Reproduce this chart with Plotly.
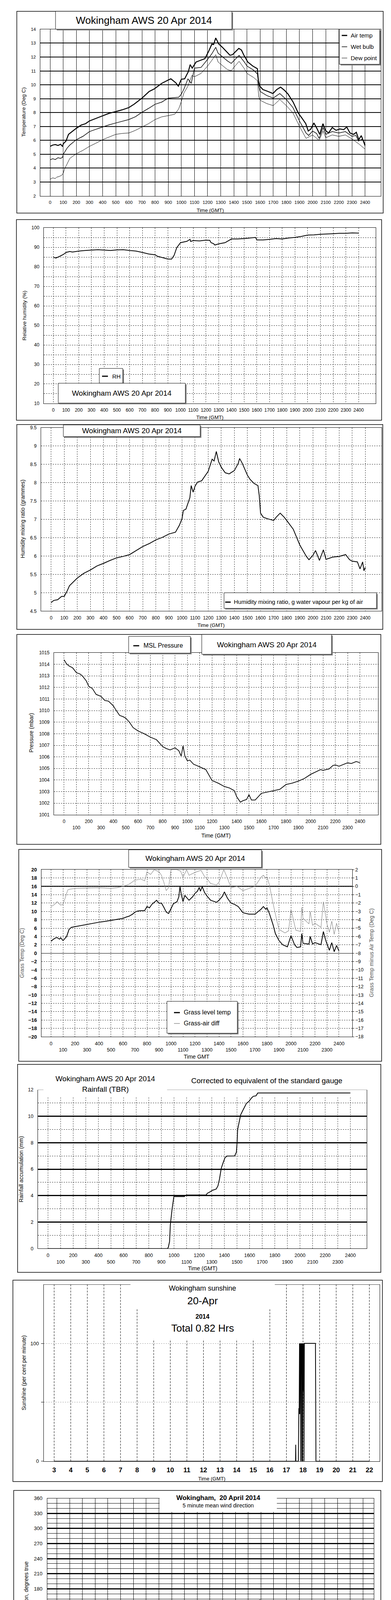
import plotly.graph_objects as go

W, H = 1000, 5000
FONT = "Liberation Sans, Arial, sans-serif"

# ======================= DATA =======================
hhmm_ticks = [0, 100, 200, 300, 400, 500, 600, 700, 800, 900, 1000, 1100, 1200,
              1300, 1400, 1500, 1600, 1700, 1800, 1900, 2000, 2100, 2200, 2300, 2400]
hhmm_labels = ["0", "100", "200", "300", "400", "500", "600", "700", "800", "900", "1000",
               "1100", "1200", "1300", "1400", "1500", "1600", "1700", "1800", "1900",
               "2000", "2100", "2200", "2300", "2400"]
hhmm_labels_2row = ["0", "<br>100", "200", "<br>300", "400", "<br>500", "600", "<br>700",
                    "800", "<br>900", "1000", "<br>1100", "1200", "<br>1300", "1400",
                    "<br>1500", "1600", "<br>1700", "1800", "<br>1900", "2000", "<br>2100",
                    "2200", "<br>2300", "2400"]
sun_hour_ticks = [3, 4, 5, 6, 7, 8, 9, 10, 11, 12, 13, 14, 15, 16, 17, 18, 19, 20, 21, 22]
dir_hour_ticks = [0, 1, 2, 3, 4, 5, 6, 7, 8, 9, 10, 11, 12, 13, 14, 15, 16, 17, 18, 19,
                  20, 21, 22, 23, 24]
clock_ticks = [0, 1, 2, 3, 4, 5, 6, 7, 8, 9, 10, 11, 12, 13, 14, 15, 16, 17, 18, 19, 20,
               21, 22, 23, 24, 25]
clock_labels = ["00:00", "<br>01:00", "02:00", "<br>03:00", "04:00", "<br>05:00", "06:00",
                "<br>07:00", "08:00", "<br>09:00", "10:00", "<br>11:00", "12:00",
                "<br>13:00", "14:00", "<br>15:00", "16:00", "<br>17:00", "18:00",
                "<br>19:00", "20:00", "<br>21:00", "22:00", "<br>23:00", "", ""]

temp_ticks = [2, 3, 4, 5, 6, 7, 8, 9, 10, 11, 12, 13, 14]
rh_ticks = [10, 15, 20, 25, 30, 35, 40, 45, 50, 55, 60, 65, 70, 75, 80, 85, 90, 95, 100]
rh_labels = ["10", "", "20", "", "30", "", "40", "", "50", "", "60", "", "70", "", "80", "",
             "90", "", "100"]
mix_ticks = [4.5, 5, 5.5, 6, 6.5, 7, 7.5, 8, 8.5, 9, 9.5]
mix_labels = ["4.5", "5", "5.5", "6", "6.5", "7", "7.5", "8", "8.5", "9", "9.5"]
pres_ticks = [1001, 1002, 1003, 1004, 1005, 1006, 1007, 1008, 1009, 1010, 1011, 1012, 1013, 1014, 1015]
grass_ticks = [-20, -18, -16, -14, -12, -10, -8, -6, -4, -2, 0, 2, 4, 6, 8, 10, 12, 14, 16, 18, 20]
diff_ticks = [-18, -17, -16, -15, -14, -13, -12, -11, -10, -9, -8, -7, -6, -5, -4, -3, -2, -1, 0, 1, 2]
rain_ticks = [0, 2, 4, 6, 8, 10, 12]
rain_minor = [1, 3, 5, 7, 9, 11]
sun_ticks = [0, 50, 100]
sun_labels = ["0", "", "100"]
dir_ticks = [0, 30, 60, 90, 120, 150, 180, 210, 240, 270, 300, 330, 360]
dir_minor = [10, 20, 40, 50, 70, 80, 100, 110, 130, 140, 160, 170, 190, 200, 220, 230,
             250, 260, 280, 290, 310, 320, 340, 350]
speed_ticks = [0, 5, 10, 15, 20, 25, 30, 35, 40, 45, 50]
speed_labels = ["0", "", "10", "", "20", "", "30", "", "40", "", "50"]

# (time HHMM, deg C)
air_temp = [(0, 5.57), (20, 5.66), (40, 5.70), (60, 5.63), (80, 5.72), (95, 5.55), (100, 5.75),
            (121, 5.95), (140, 6.43), (170, 6.65), (200, 6.87), (237, 7.1), (270, 7.2), (300, 7.4),
            (350, 7.58), (400, 7.78), (450, 7.95), (500, 8.07), (550, 8.2), (600, 8.36), (640, 8.6),
            (700, 9.04), (755, 9.52), (795, 9.71), (850, 10.1), (900, 10.34), (920, 10.43),
            (958, 10.14), (977, 9.9), (1000, 10.4), (1025, 10.43), (1054, 10.96), (1067, 11.45),
            (1083, 11.2), (1112, 11.64), (1140, 11.74), (1179, 11.88), (1208, 12.41), (1233, 12.94),
            (1246, 12.9), (1262, 13.37), (1285, 12.94), (1313, 12.7), (1342, 12.41), (1371, 12.12),
            (1390, 12.17), (1410, 12.36), (1438, 12.62), (1458, 12.5), (1477, 12.12), (1506, 11.64),
            (1544, 11.35), (1579, 11.16), (1587, 10.29), (1598, 9.9), (1621, 9.66), (1660, 9.52),
            (1698, 9.37), (1727, 9.66), (1756, 9.83), (1785, 9.61), (1813, 9.33), (1852, 8.75),
            (1890, 7.98), (1919, 7.6), (1948, 7.2), (1967, 6.67), (1987, 6.82), (2010, 7.25),
            (2035, 6.82), (2054, 6.43), (2079, 7.2), (2098, 6.72), (2121, 6.53), (2150, 6.92),
            (2179, 6.72), (2208, 6.82), (2237, 6.77), (2260, 6.96), (2285, 6.53), (2313, 6.43),
            (2333, 6.58), (2352, 6.05), (2371, 6.34), (2387, 5.95), (2400, 5.66)]
wet_bulb = [(0, 4.6), (20, 4.68), (40, 4.62), (60, 4.75), (80, 4.7), (95, 4.78), (100, 4.99),
            (130, 5.45), (150, 5.66), (200, 6.05), (250, 6.29), (300, 6.63), (350, 6.8), (400, 6.96),
            (450, 7.12), (500, 7.25), (550, 7.38), (600, 7.5), (650, 7.7), (700, 8.02), (750, 8.3),
            (800, 8.6), (850, 8.75), (900, 9.04), (950, 9.08), (980, 9.1), (1000, 9.33), (1020, 9.7),
            (1050, 10.43), (1075, 10.1), (1100, 11.2), (1150, 11.25), (1200, 11.83), (1230, 12.2),
            (1262, 12.7), (1280, 12.27), (1300, 12.12), (1350, 11.73), (1380, 11.54), (1400, 11.73),
            (1440, 12.12), (1480, 11.64), (1500, 11.35), (1550, 11.06), (1580, 10.77), (1590, 9.9),
            (1600, 9.52), (1650, 9.23), (1700, 9.04), (1750, 9.37), (1800, 8.94), (1850, 8.36),
            (1900, 7.4), (1950, 6.53), (1970, 6.35), (2000, 6.67), (2030, 6.5), (2050, 6.14),
            (2080, 6.92), (2100, 6.43), (2150, 6.63), (2200, 6.53), (2250, 6.63), (2300, 6.29),
            (2330, 6.35), (2350, 5.95), (2380, 6.1), (2400, 5.57)]
dew_point = [(0, 3.2), (20, 3.3), (40, 3.25), (50, 3.35), (70, 3.4), (90, 3.5), (100, 3.64),
             (110, 3.93), (150, 4.7), (200, 5.04), (250, 5.28), (300, 5.57), (350, 5.8), (400, 6.05),
             (450, 6.24), (500, 6.43), (550, 6.5), (600, 6.53), (650, 6.72), (700, 6.96), (750, 7.2),
             (800, 7.5), (850, 7.69), (900, 7.78), (950, 7.88), (980, 8.27), (1000, 8.8), (1020, 9.42),
             (1050, 9.9), (1080, 10.67), (1100, 10.58), (1150, 10.82), (1200, 11.35), (1230, 11.73),
             (1262, 12.17), (1280, 11.64), (1300, 11.49), (1350, 11.1), (1380, 11.01), (1400, 11.25),
             (1440, 11.69), (1480, 11.16), (1500, 10.82), (1550, 10.53), (1580, 10.29), (1590, 9.13),
             (1600, 8.89), (1650, 8.65), (1700, 8.5), (1750, 8.94), (1800, 8.5), (1850, 7.98),
             (1900, 7.01), (1950, 6.14), (2000, 6.39), (2050, 6.0), (2080, 6.67), (2100, 6.19),
             (2150, 6.39), (2200, 6.29), (2250, 6.39), (2300, 6.1), (2350, 5.76), (2400, 5.37)]

rel_humidity = [(0, 85.0), (20, 84.5), (50, 85.4), (80, 86.4), (100, 87.4), (130, 87.9), (150, 87.6),
                (200, 88.1), (250, 88.4), (300, 88.6), (350, 88.8), (400, 88.6), (450, 88.4),
                (500, 88.7), (550, 88.8), (600, 88.4), (650, 88.1), (700, 87.4), (750, 86.6),
                (800, 86.2), (820, 85.4), (850, 84.9), (880, 84.4), (900, 84.0), (930, 84.0),
                (950, 86.0), (970, 89.8), (1000, 92.4), (1050, 93.1), (1075, 94.1), (1080, 93.0),
                (1100, 93.5), (1150, 93.3), (1200, 93.7), (1230, 93.6), (1240, 92.4), (1260, 91.9),
                (1270, 91.2), (1300, 91.8), (1350, 92.4), (1400, 94.3), (1450, 94.3), (1500, 94.5),
                (1550, 94.8), (1590, 95.1), (1600, 93.8), (1650, 93.8), (1700, 94.1), (1750, 94.5),
                (1800, 94.3), (1850, 94.8), (1900, 95.1), (1950, 95.6), (2000, 96.3), (2050, 96.4),
                (2100, 96.7), (2150, 96.8), (2200, 97.0), (2250, 97.2), (2300, 97.2), (2350, 97.4),
                (2400, 97.3)]

mixing_ratio = [(0, 4.73), (20, 4.79), (50, 4.81), (80, 4.9), (100, 4.9), (120, 5.03), (140, 5.19),
                (170, 5.3), (200, 5.4), (250, 5.53), (300, 5.62), (350, 5.73), (400, 5.8), (450, 5.88),
                (500, 5.95), (550, 5.99), (600, 6.04), (650, 6.15), (700, 6.26), (750, 6.34),
                (800, 6.44), (850, 6.51), (900, 6.6), (950, 6.65), (980, 6.84), (1000, 7.02),
                (1010, 7.24), (1030, 7.28), (1050, 7.5), (1060, 7.59), (1070, 7.92), (1085, 7.74),
                (1100, 7.91), (1120, 8.02), (1150, 8.05), (1200, 8.31), (1230, 8.64), (1245, 8.59),
                (1262, 8.85), (1280, 8.57), (1300, 8.42), (1330, 8.27), (1360, 8.24), (1400, 8.33),
                (1430, 8.53), (1440, 8.66), (1460, 8.53), (1500, 8.2), (1520, 8.09), (1550, 7.98),
                (1580, 7.92), (1590, 7.65), (1600, 7.17), (1620, 7.06), (1650, 7.02), (1700, 6.97),
                (1720, 7.06), (1750, 7.17), (1780, 7.06), (1800, 6.97), (1850, 6.73), (1900, 6.3),
                (1950, 5.99), (1970, 5.9), (2000, 6.02), (2020, 6.15), (2050, 5.88), (2080, 6.17),
                (2100, 5.91), (2150, 5.97), (2200, 5.99), (2250, 6.04), (2280, 5.9), (2300, 5.86),
                (2340, 5.84), (2360, 5.65), (2380, 5.84), (2390, 5.6), (2400, 5.69)]

msl_pressure = [(0, 1014.39), (20, 1014.04), (40, 1013.86), (70, 1013.69), (100, 1013.28),
                (130, 1013.16), (150, 1012.98), (180, 1012.57), (200, 1012.1), (230, 1011.9),
                (260, 1011.4), (300, 1011.23), (330, 1010.88), (360, 1010.82), (400, 1010.41),
                (420, 1010.06), (450, 1009.59), (480, 1009.47), (500, 1009.35), (530, 1009.0),
                (560, 1008.53), (600, 1008.24), (650, 1008.0), (700, 1007.71), (750, 1007.48),
                (800, 1006.89), (830, 1006.72), (860, 1006.6), (900, 1006.78), (930, 1006.54),
                (950, 1006.07), (965, 1006.95), (980, 1006.07), (1000, 1005.66), (1020, 1005.72),
                (1050, 1005.37), (1100, 1005.14), (1150, 1004.9), (1200, 1003.96), (1250, 1003.73),
                (1300, 1003.44), (1340, 1003.32), (1380, 1003.09), (1400, 1002.56), (1430, 1002.09),
                (1450, 1002.21), (1480, 1002.32), (1500, 1002.73), (1520, 1002.27), (1550, 1002.27),
                (1600, 1002.85), (1650, 1002.97), (1700, 1003.09), (1750, 1003.2), (1800, 1003.61),
                (1850, 1003.73), (1900, 1003.91), (1950, 1004.14), (2000, 1004.49), (2050, 1004.73),
                (2080, 1004.9), (2100, 1004.84), (2150, 1004.96), (2180, 1005.25), (2200, 1005.31),
                (2230, 1005.19), (2270, 1005.37), (2300, 1005.49), (2330, 1005.43), (2370, 1005.6),
                (2400, 1005.49)]

grass_temp = [(0, 2.86), (20, 3.36), (40, 3.69), (50, 3.76), (70, 3.36), (80, 3.7), (100, 3.03),
              (110, 3.36), (130, 4.0), (150, 5.69), (170, 6.19), (200, 6.36), (250, 6.62), (300, 6.95),
              (350, 7.19), (400, 7.42), (450, 7.62), (500, 7.85), (550, 8.09), (600, 8.35), (630, 8.69),
              (650, 8.85), (680, 9.35), (700, 9.85), (720, 10.08), (750, 10.18), (780, 10.18),
              (800, 11.18), (820, 10.85), (840, 11.68), (860, 12.18), (880, 12.68), (900, 11.95),
              (920, 12.01), (940, 11.0), (960, 9.85), (980, 9.51), (1000, 10.68), (1020, 11.85),
              (1050, 12.34), (1065, 13.51), (1075, 15.94), (1085, 14.18), (1100, 12.34), (1115, 13.84),
              (1130, 13.34), (1150, 12.68), (1180, 13.51), (1200, 14.34), (1220, 14.84), (1235, 15.74),
              (1245, 14.84), (1260, 15.94), (1280, 14.51), (1300, 13.68), (1330, 12.68), (1380, 12.18),
              (1400, 12.68), (1430, 13.68), (1445, 14.68), (1470, 13.18), (1500, 12.01), (1530, 11.68),
              (1560, 11.18), (1600, 9.68), (1650, 9.35), (1700, 9.35), (1750, 10.52), (1770, 11.18),
              (1790, 10.52), (1800, 10.85), (1820, 9.51), (1850, 6.86), (1870, 4.69), (1900, 3.03),
              (1930, 2.03), (1970, 1.53), (2000, 4.19), (2030, 2.03), (2050, 1.36), (2080, 1.53),
              (2090, 4.69), (2100, 2.36), (2150, 2.19), (2160, 4.03), (2180, 2.19), (2200, 2.53),
              (2250, 2.03), (2270, 5.19), (2290, 3.03), (2300, 2.19), (2320, 0.69), (2340, 2.53),
              (2360, 0.36), (2380, 1.86), (2400, 0.53)]
grass_air_diff = [(0, -2.41), (30, -2.16), (50, -1.83), (80, -2.24), (100, -2.16), (120, -1.33),
                  (140, -0.41), (160, -0.33), (200, -0.25), (300, -0.2), (400, -0.16), (500, -0.25),
                  (550, -0.16), (600, 0.0), (650, 0.25), (700, 0.75), (750, 0.87), (780, 0.67),
                  (800, 1.75), (830, 1.42), (860, 2.0), (900, 1.75), (920, 1.33), (940, 0.5),
                  (960, -0.5), (980, -0.16), (1000, 2.0), (1050, 2.0), (1080, 1.83), (1100, 1.08),
                  (1130, 2.0), (1150, 1.33), (1200, 1.67), (1250, 1.92), (1280, 1.17), (1300, 0.92),
                  (1330, 0.34), (1380, 0.17), (1400, 0.5), (1440, 2.0), (1470, 1.0), (1500, -0.16),
                  (1550, 0.0), (1600, -0.5), (1650, -0.25), (1700, 0.0), (1750, 1.08), (1770, 1.33),
                  (1790, 1.0), (1800, 1.17), (1820, 0.17), (1850, -2.0), (1880, -3.99), (1900, -5.15),
                  (1950, -5.57), (1980, -5.32), (2000, -2.74), (2040, -5.24), (2080, -5.4),
                  (2090, -2.49), (2100, -3.82), (2150, -4.49), (2160, -2.99), (2180, -4.66),
                  (2200, -4.41), (2250, -4.91), (2270, -1.83), (2290, -3.66), (2300, -4.49),
                  (2320, -5.49), (2340, -4.16), (2360, -5.74), (2380, -4.41), (2400, -5.49)]

rain_accum = [(0, 0), (949, 0), (955, 0.1), (965, 0.54), (971, 1.8), (985, 3.0), (999, 3.93),
              (1083, 3.93), (1085, 4.0), (1100, 4.05), (1255, 4.05), (1265, 4.18), (1285, 4.28),
              (1305, 4.4), (1335, 4.5), (1349, 4.74), (1361, 5.25), (1375, 6.06), (1389, 6.46),
              (1405, 6.87), (1421, 6.99), (1481, 7.0), (1495, 7.27), (1501, 8.03), (1505, 8.99),
              (1519, 9.6), (1529, 10.1), (1545, 10.41), (1561, 10.71), (1575, 10.97), (1595, 11.12),
              (1615, 11.37), (1629, 11.5), (1651, 11.54), (1665, 11.75), (2400, 11.75)]

# (hour, per cent per minute)
sunshine = [(3, 0), (17.55, 0), (17.56, 14), (17.57, 0), (17.72, 0), (17.74, 30), (17.75, 45),
            (17.77, 40), (17.79, 100), (17.80, 40), (17.82, 100), (17.83, 70), (17.85, 100),
            (17.86, 0), (17.88, 100), (17.90, 80), (17.92, 100), (17.93, 0), (17.95, 100),
            (17.97, 0), (17.99, 100), (18.02, 60), (18.04, 100), (18.06, 0), (18.08, 100),
            (18.75, 100), (18.77, 50), (18.78, 0), (22, 0)]

# (hour, degrees true)
wind_dir = [(0.00, 21.4), (0.10, 20), (0.23, 25.3), (0.38, 30.5), (0.49, 28.6), (0.64, 27.9),
            (0.80, 30.5), (0.90, 27.9), (1.03, 26.6), (1.16, 29.7), (1.31, 29.7), (1.42, 27.9),
            (1.50, 20.1), (1.62, 27.1), (1.78, 25.3), (1.90, 27.1), (2.04, 25.3), (2.19, 26.6),
            (2.35, 27.1), (2.50, 25.3), (2.65, 22.7), (2.76, 20.1), (2.83, 16.3), (2.91, 24),
            (3.04, 26.6), (3.17, 28.6), (3.33, 27.1), (3.48, 28.6), (3.58, 24), (3.69, 21.9),
            (3.79, 26.6), (3.92, 16.8), (4.00, 25.3), (4.13, 21.9), (4.26, 17.5), (4.33, 14.2),
            (4.41, 20.1), (4.57, 24), (4.67, 22.7), (4.75, 31.7), (4.88, 25.3), (5.03, 25.3),
            (5.17, 29.2), (5.29, 27.9), (5.44, 22.7), (5.58, 20.1), (5.70, 17.5), (5.81, 16.3),
            (5.91, 15.7), (6.01, 20.1), (6.14, 21.4), (6.24, 26.6), (6.37, 24), (6.53, 26.6),
            (6.68, 27.9), (6.84, 29.2), (6.99, 29.2), (7.15, 33), (7.30, 29.7), (7.46, 31.7),
            (7.58, 28.6), (7.67, 36.9), (7.77, 27.9), (7.92, 33), (8.06, 33), (8.18, 29.2),
            (8.34, 27.9), (8.47, 29.7), (8.62, 33), (8.75, 35.6), (8.88, 40.3), (9.01, 34.3),
            (9.16, 33), (9.27, 34.3), (9.37, 29.2), (9.52, 27.9), (9.61, 51.6), (9.68, 25.3),
            (9.83, 22.7), (9.99, 25.3), (10.14, 27.9), (10.25, 24), (10.35, 33), (10.51, 27.9),
            (10.61, 33), (10.76, 33), (10.92, 34.3), (11.07, 35.6), (11.23, 39.5), (11.38, 36.9),
            (11.54, 34.3), (11.69, 34.3), (11.80, 30.5), (11.95, 33), (12.04, 33.5), (12.15, 44.6),
            (12.25, 42.6), (12.35, 49.8), (12.46, 44.6), (12.56, 53.7), (12.66, 58.8), (12.77, 52.4),
            (12.87, 42.1), (12.97, 40.8), (13.08, 39.5), (13.18, 45.9), (13.28, 53.7), (13.38, 57.5),
            (13.49, 64.0), (13.59, 55), (13.69, 47.2), (13.80, 39.5), (13.95, 34.8), (14.11, 40.8),
            (14.26, 43.4), (14.42, 51.1), (14.52, 65.3), (14.67, 65.3), (14.83, 77.7), (14.93, 77.7),
            (15.04, 57.5), (15.19, 58.8), (15.34, 65.3), (15.50, 69.9), (15.66, 111), (15.71, 149.2),
            (15.79, 145.8), (15.91, 154.3), (16.02, 152.5), (16.07, 131.9), (16.14, 124.6),
            (16.22, 127.2), (16.33, 134.5), (16.43, 131.1), (16.58, 135), (16.66, 120.8),
            (16.74, 116.4), (16.82, 111.7), (16.89, 88.5), (17.00, 113), (17.10, 116.4),
            (17.20, 110.5), (17.31, 111.7), (17.41, 109.2), (17.51, 105.3), (17.59, 103.5),
            (17.67, 107.1), (17.72, 91.1), (17.82, 80.8), (17.91, 97.5), (17.98, 109.2),
            (18.06, 119.5), (18.13, 108.6), (18.24, 105.3), (18.31, 89.8), (18.39, 81.3),
            (18.49, 70.5), (18.60, 76.9), (18.75, 76.9), (18.91, 79.5), (19.03, 74.8), (19.16, 84.6),
            (19.27, 82.1), (19.37, 75.6), (19.51, 75.6), (19.63, 69.2), (19.75, 66.6), (19.89, 62.7),
            (19.99, 73), (20.09, 78.2), (20.20, 79.5), (20.33, 76.9), (20.46, 79.5), (20.58, 72.5),
            (20.61, 87.2), (20.71, 101.4), (20.81, 99.4), (20.89, 84.6), (20.99, 67.9), (21.13, 75.6),
            (21.23, 75.1), (21.30, 69.2), (21.43, 79.5), (21.57, 74.3), (21.69, 76.1), (21.81, 69.2),
            (21.92, 67.9), (22.05, 73.5), (22.19, 67.9), (22.31, 74.3), (22.44, 110.5), (22.47, 70.5),
            (22.57, 84.6), (22.64, 69.2), (22.72, 77.7), (22.81, 62.7), (22.93, 58.1), (23.03, 56.3),
            (23.14, 67.9), (23.24, 78.7), (23.29, 70.5), (23.36, 55.5), (23.47, 61.4), (23.53, 74.8),
            (23.63, 82.8), (23.74, 64.8), (23.86, 71.7)]

# (hour, knots)
mean_speed = [(0, 4.97), (0.14, 4.4), (0.36, 5.4), (0.61, 7.5), (0.78, 7.3), (0.95, 6.4), (1.15, 4.5),
              (1.29, 5.4), (1.55, 6.4), (1.80, 8.1), (2.00, 9.2), (2.22, 7.9), (2.48, 6.9), (2.73, 6.2),
              (2.95, 4.5), (3.16, 5.6), (3.41, 6.6), (3.67, 5.7), (4.01, 6.2), (4.26, 6.9), (4.52, 7.5),
              (4.77, 6.6), (5.03, 7.3), (5.37, 6.9), (5.62, 6.4), (5.87, 5.9), (6.13, 6.9), (6.38, 7.9),
              (6.64, 7.3), (6.98, 8.1), (7.23, 6.9), (7.49, 7.7), (7.74, 8.5), (8.00, 8.3), (8.25, 8.3),
              (8.51, 11.1), (8.68, 9.2), (8.93, 8.5), (9.19, 7.1), (9.44, 8.1), (9.69, 6.0), (9.95, 9.2),
              (10.12, 8.5), (10.37, 7.3), (10.54, 7.7), (10.80, 7.3), (11.05, 7.9), (11.31, 7.7),
              (11.56, 6.6), (11.82, 5.8), (12.16, 5.8), (12.41, 7.1), (12.67, 8.75), (12.92, 6.9),
              (13.17, 6.2), (13.43, 7.9), (13.68, 6.9), (13.94, 6.0), (14.19, 7.3), (14.45, 8.1),
              (14.70, 8.5), (14.96, 9.4), (15.21, 8.1), (15.47, 8.5), (15.72, 8.1), (15.94, 6.9),
              (16.06, 7.3), (16.23, 5.2), (16.49, 4.1), (16.74, 3.9), (17.08, 2.4), (17.33, 3.3),
              (17.59, 2.9), (17.93, 3.3), (18.35, 2.3), (18.69, 2.65), (19.03, 2.0), (19.46, 2.3),
              (19.88, 2.4), (20.31, 2.9), (20.65, 3.6), (20.98, 2.95), (21.32, 3.9), (21.66, 4.5),
              (22.00, 3.9), (22.34, 3.7), (22.68, 3.3), (23.02, 3.1), (23.36, 2.4), (23.70, 2.9),
              (24.01, 4.1)]
max_gust = [(0, 6.2), (0.14, 5.2), (0.27, 7.3), (0.44, 9.0), (0.58, 11.9), (0.70, 8.5), (0.78, 11.1),
            (0.95, 7.3), (1.09, 9.4), (1.21, 3.9), (1.38, 6.9), (1.63, 8.5), (1.88, 12.8), (2.05, 11.1),
            (2.22, 10.2), (2.39, 9.4), (2.56, 10.2), (2.73, 7.3), (2.90, 5.2), (3.07, 8.5), (3.24, 7.7),
            (3.41, 9.0), (3.58, 7.3), (3.80, 4.8), (4.01, 9.4), (4.18, 11.1), (4.35, 8.5), (4.52, 12.8),
            (4.69, 8.5), (4.94, 11.9), (5.20, 9.4), (5.45, 10.2), (5.70, 8.5), (5.87, 7.3), (6.04, 9.8),
            (6.21, 13.2), (6.38, 9.4), (6.55, 11.5), (6.72, 10.2), (6.89, 13.2), (7.06, 11.1),
            (7.23, 8.5), (7.40, 11.5), (7.57, 14.4), (7.74, 10.6), (7.91, 15.3), (8.08, 11.9),
            (8.20, 19.5), (8.34, 13.6), (8.42, 17.4), (8.59, 11.1), (8.76, 14.4), (8.93, 11.9),
            (9.10, 10.2), (9.27, 13.2), (9.44, 10.2), (9.61, 8.1), (9.78, 11.9), (9.90, 17.0),
            (10.03, 11.1), (10.20, 13.2), (10.37, 10.2), (10.54, 13.6), (10.80, 6.0), (10.97, 11.9),
            (11.14, 9.4), (11.31, 11.5), (11.48, 9.4), (11.65, 11.1), (11.82, 8.5), (11.99, 9.8),
            (12.16, 7.7), (12.33, 11.1), (12.55, 17.8), (12.67, 13.2), (12.84, 14.4), (13.01, 10.2),
            (13.17, 15.3), (13.34, 11.1), (13.51, 13.6), (13.68, 10.2), (13.85, 11.1), (14.02, 16.1),
            (14.19, 9.4), (14.36, 13.6), (14.53, 16.5), (14.70, 12.8), (14.87, 15.3), (15.04, 11.9),
            (15.25, 20.7), (15.38, 15.3), (15.55, 13.2), (15.72, 15.3), (15.89, 11.1), (16.03, 9.4),
            (16.15, 7.7), (16.32, 5.6), (16.49, 6.9), (16.66, 4.8), (16.83, 6.2), (17.05, 1.0),
            (17.16, 4.8), (17.42, 3.5), (17.67, 5.6), (17.93, 3.5), (18.18, 4.8), (18.44, 2.65),
            (18.69, 4.3), (18.95, 2.65), (19.20, 3.9), (19.46, 3.5), (19.71, 5.2), (19.97, 3.9),
            (20.22, 5.2), (20.48, 4.8), (20.73, 4.3), (20.98, 5.6), (21.15, 7.9), (21.41, 5.6),
            (21.66, 6.0), (21.92, 7.3), (22.17, 5.6), (22.43, 6.4), (22.68, 4.3), (22.94, 5.6),
            (23.19, 3.9), (23.45, 5.2), (23.70, 4.5), (24.01, 7.3)]
# light winds shown at x10 scale (hour, knots x10)
speed_x10 = [(16.43, 39.1), (16.57, 38.4), (16.74, 38.2), (16.83, 37.6), (16.88, 36.7), (16.66, 37.1),
             (16.49, 36.3), (16.57, 36.1), (16.74, 35.7), (16.94, 35.1), (16.49, 33.8), (16.57, 33.6),
             (16.52, 32.3), (16.50, 31.1), (16.96, 31.9), (16.77, 37.4),
             (17.05, 29.6), (17.08, 28.3), (17.16, 27.5), (17.13, 25.8), (17.16, 24.3), (17.11, 23.3),
             (17.08, 21.8), (17.11, 20.5), (17.11, 19.3), (17.28, 31.7), (17.39, 30.4), (17.50, 33.8),
             (17.59, 32.1), (17.67, 30.9), (17.76, 33.0), (17.84, 31.7), (17.93, 30.4), (18.01, 31.3),
             (18.10, 35.5), (18.06, 34.2), (18.18, 30.4), (17.42, 29.2), (17.56, 27.1), (17.67, 26.6),
             (17.76, 25.8), (17.89, 25.4), (17.96, 27.9), (17.59, 25.8), (17.33, 27.9), (18.23, 28.3),
             (18.27, 25.0), (18.35, 24.5), (18.44, 25.8), (18.52, 27.5), (18.61, 28.3), (18.69, 29.6),
             (18.78, 28.8), (18.81, 27.5), (18.86, 25.8), (18.91, 24.5), (18.95, 23.7), (19.03, 22.4),
             (19.08, 20.7), (19.15, 22.0), (19.25, 22.9), (19.37, 23.7), (19.46, 24.5), (19.54, 26.2),
             (19.63, 27.1), (19.71, 27.9), (19.83, 27.5), (19.93, 28.8), (20.00, 29.6), (20.10, 30.4),
             (20.17, 32.1), (20.27, 33.4), (20.34, 34.6), (20.39, 35.9), (20.44, 37.2), (20.51, 34.2),
             (20.61, 33.2), (20.68, 32.1), (20.78, 30.9), (20.85, 29.2), (20.95, 30.4), (21.02, 28.8),
             (21.12, 32.1), (21.21, 34.6),
             (21.32, 37.6), (21.41, 38.8), (21.49, 39.7), (21.58, 39.9), (21.66, 38.4), (21.75, 37.2),
             (21.83, 38.8), (21.92, 36.7), (21.88, 36.1), (21.46, 36.5),
             (22.38, 39.5), (22.48, 38.6), (22.43, 37.8), (22.51, 36.7), (22.55, 36.1), (22.60, 34.6),
             (22.68, 33.8), (22.65, 32.1), (22.72, 30.9), (22.77, 33.0), (22.85, 31.7), (22.94, 30.4),
             (23.02, 32.1), (23.11, 29.6), (22.65, 29.6), (22.65, 28.3), (22.68, 27.5), (23.19, 28.3),
             (23.23, 27.1), (23.28, 25.4), (23.36, 24.5), (23.40, 23.7), (23.45, 29.6), (23.53, 30.0),
             (23.62, 28.8), (23.70, 27.9), (23.79, 29.2), (23.87, 30.9), (23.90, 32.5), (23.92, 33.8),
             (23.94, 35.7), (23.96, 37.8), (23.97, 38.6)]


def xs(pairs):
    return [p[0] for p in pairs]


def ys(pairs):
    return [p[1] for p in pairs]


# ======================= HELPERS =======================
shapes = []
annotations = []


def xd(l, r):
    return [l / W, r / W]


def yd(t, b):
    return [1 - b / H, 1 - t / H]


def prect(l, t, r, b, fill='rgba(0,0,0,0)', line='black', lw=1.0, layer='above'):
    shapes.append(dict(type='rect', xref='paper', yref='paper', x0=l / W, x1=r / W,
                       y0=1 - b / H, y1=1 - t / H, fillcolor=fill,
                       line=dict(color=line, width=lw), layer=layer))


def pline(x0, y0, x1, y1, color='black', width=1.0):
    shapes.append(dict(type='line', xref='paper', yref='paper', x0=x0 / W, x1=x1 / W,
                       y0=1 - y0 / H, y1=1 - y1 / H, line=dict(color=color, width=width),
                       layer='above'))


def ptext(x, y, text, size=12, anchor='center', angle=0, color='black', weight='normal'):
    annotations.append(dict(xref='paper', yref='paper', x=x / W, y=1 - y / H, text=text,
                            showarrow=False, xanchor=anchor, yanchor='middle', textangle=angle,
                            font=dict(family=FONT, size=size, color=color, weight=weight)))


def box(l, t, r, b, shadow=3):
    if shadow:
        prect(l + shadow, t + shadow, r + shadow, b + shadow, fill='#7f7f7f', line='#7f7f7f', lw=0)
    prect(l, t, r, b, fill='white', line='black', lw=1)


def diamond(cx, cy, s, fill, line):
    x0, x1, x2 = (cx - s) / W, cx / W, (cx + s) / W
    ya, yb, yc = 1 - (cy - s) / H, 1 - cy / H, 1 - (cy + s) / H
    shapes.append(dict(type='path', xref='paper', yref='paper',
                       path=f"M {x0} {yb} L {x1} {ya} L {x2} {yb} L {x1} {yc} Z",
                       fillcolor=fill, line=dict(color=line, width=1), layer='above'))


base = dict(showline=True, linecolor='black', linewidth=1, zeroline=False, ticks='',
            fixedrange=True, tickfont=dict(family=FONT, size=12, color='black'))


def ax(**kw):
    d = dict(base)
    d.update(kw)
    return d


fig = go.Figure()
layout = dict(width=W, height=H, margin=dict(l=0, r=0, t=0, b=0), paper_bgcolor='white',
              plot_bgcolor='white', showlegend=False, font=dict(family=FONT, color='black'))

# outer panel frames
for (l, t, r, b) in [(35, 14, 972, 532), (34, 549, 968, 1064), (35, 1075, 971, 1601),
                     (35, 1614, 966, 2153), (40, 2166, 968, 2710), (37, 2718, 966, 3252),
                     (25, 3272, 970, 3789), (27, 3812, 966, 4346), (27, 4362, 966, 4876)]:
    prect(l, t, r, b, lw=1.5)

# ---------------- Panel 1: temperatures ----------------
layout['xaxis'] = ax(domain=xd(95, 966), anchor='y', range=[-75, 2520], tickmode='array',
                     tickvals=hhmm_ticks, ticktext=hhmm_labels, showgrid=True, gridcolor='black',
                     gridwidth=1, mirror=True, tickfont=dict(size=11.5), ticklabelstandoff=6)
layout['yaxis'] = ax(domain=yd(60, 488), anchor='x', range=[2, 14], tickmode='array',
                     tickvals=temp_ticks, showgrid=True, gridcolor='black', gridwidth=2.2,
                     mirror=True, tickfont=dict(size=11.5), ticklabelstandoff=8)
fig.add_trace(go.Scatter(x=xs(dew_point), y=ys(dew_point), mode='lines', xaxis='x', yaxis='y',
                         line=dict(color='black', width=1)))
fig.add_trace(go.Scatter(x=xs(wet_bulb), y=ys(wet_bulb), mode='lines', xaxis='x', yaxis='y',
                         line=dict(color='black', width=1.5)))
fig.add_trace(go.Scatter(x=xs(air_temp), y=ys(air_temp), mode='lines', xaxis='x', yaxis='y',
                         line=dict(color='black', width=2.5)))
box(134, 14, 585, 60)
ptext(360, 37, "Wokingham AWS 20 Apr 2014", size=26)
box(860, 60, 963, 150)
pline(866, 76, 880, 76, width=3)
pline(866, 105, 880, 105, width=1.5)
pline(866, 134, 880, 134, width=1)
ptext(887, 76, "Air temp", size=15, anchor='left')
ptext(887, 105, "Wet bulb", size=15, anchor='left')
ptext(887, 134, "Dew point", size=15, anchor='left')
ptext(530, 525, "Time (GMT)", size=13)
ptext(52, 273, "Temperature (Deg C)", size=13.5, angle=-90)

# ---------------- Panel 2: RH ----------------
dotgrid = dict(showgrid=True, gridcolor='#222', gridwidth=1, griddash='dot')
layout['xaxis2'] = ax(domain=xd(104, 953), anchor='y2', range=[-75, 2535], tickmode='array',
                      tickvals=hhmm_ticks, ticktext=hhmm_labels, mirror=True,
                      ticklabelstandoff=6, **dotgrid)
layout['yaxis2'] = ax(domain=yd(570, 1021), anchor='x2', range=[10, 100], tickmode='array',
                      tickvals=rh_ticks, ticktext=rh_labels, mirror=True, ticklabelstandoff=8,
                      **dotgrid)
fig.add_trace(go.Scatter(x=xs(rel_humidity), y=ys(rel_humidity), mode='lines', xaxis='x2',
                         yaxis='y2', line=dict(color='black', width=2)))
box(246, 931, 306, 969)
pline(253, 951, 268, 951, width=3)
ptext(277, 951, "RH", size=15, anchor='left')
box(141, 969, 466, 1020)
ptext(303, 994, "Wokingham AWS 20 Apr 2014", size=19)
ptext(529, 1057, "Time (GMT)", size=13)
ptext(55, 795, "Relative humidity (%)", size=13.5, angle=-90)

# ---------------- Panel 3: mixing ratio ----------------
layout['xaxis3'] = ax(domain=xd(97, 968), anchor='y3', range=[-77, 2525], tickmode='array',
                      tickvals=hhmm_ticks, ticktext=hhmm_labels, mirror=True,
                      ticklabelstandoff=6, **dotgrid)
layout['yaxis3'] = ax(domain=yd(1083, 1554), anchor='x3', range=[4.5, 9.5], tickmode='array',
                      tickvals=mix_ticks, ticktext=mix_labels, mirror=True, ticklabelstandoff=8,
                      **dotgrid)
fig.add_trace(go.Scatter(x=xs(mixing_ratio), y=ys(mixing_ratio), mode='lines', xaxis='x3',
                         yaxis='y3', line=dict(color='black', width=2)))
box(154, 1076, 504, 1106)
ptext(329, 1091, "Wokingham AWS 20 Apr 2014", size=19)
box(565, 1507, 955, 1547)
pline(568, 1531, 582, 1531, width=3)
ptext(588, 1530, "Humidity mixing ratio, g water vapour per kg of air", size=15, anchor='left')
ptext(532, 1590, "Time (GMT)", size=13)
ptext(50, 1318, "Humidity mixing ratio (grammes)", size=14, angle=-90)

# ---------------- Panel 4: pressure ----------------
layout['xaxis4'] = ax(domain=xd(130, 959), anchor='y4', range=[-82, 2547], tickmode='array',
                      tickvals=hhmm_ticks, ticktext=hhmm_labels_2row, mirror=True,
                      ticklabelstandoff=6, **dotgrid)
layout['yaxis4'] = ax(domain=yd(1661, 2077), anchor='x4', range=[1001, 1015], tickmode='array',
                      tickvals=pres_ticks, mirror=True, ticklabelstandoff=8, **dotgrid)
fig.add_trace(go.Scatter(x=xs(msl_pressure), y=ys(msl_pressure), mode='lines', xaxis='x4',
                         yaxis='y4', line=dict(color='black', width=1.8)))
box(321, 1619, 479, 1662)
pline(333, 1643, 348, 1643, width=3)
ptext(357, 1642, "MSL Pressure", size=16, anchor='left')
box(508, 1614, 840, 1665)
ptext(674, 1640, "Wokingham AWS 20 Apr 2014", size=19)
ptext(544, 2130, "Time (GMT)", size=14)
ptext(72, 1867, "Pressure (mbar)", size=14, angle=-90)

# ---------------- Panel 5: grass temperature ----------------
layout['xaxis5'] = ax(domain=xd(98, 893), anchor='y5', range=[-80, 2511], tickmode='array',
                      tickvals=hhmm_ticks, ticktext=hhmm_labels_2row, mirror=True,
                      ticklabelstandoff=6, tickfont=dict(size=12.5), **dotgrid)
layout['yaxis5'] = ax(domain=yd(2218, 2647), anchor='x5', range=[-20, 20], tickmode='array',
                      tickvals=grass_ticks, mirror=True, ticklabelstandoff=8,
                      tickfont=dict(size=13, weight='bold'), zeroline=True, zerolinecolor='black',
                      zerolinewidth=1, **dotgrid)
layout['yaxis10'] = ax(domain=yd(2218, 2647), anchor='x5', overlaying='y5', side='right',
                       range=[-18, 2], tickmode='array', tickvals=diff_ticks, showgrid=False,
                       ticks='outside', ticklen=4, tickcolor='black', showline=False,
                       tickfont=dict(size=12.5))
shapes.append(dict(type='line', xref='x5 domain', yref='y5', x0=0, x1=1, y0=16, y1=16,
                   line=dict(color='black', width=2.5), layer='below'))
fig.add_trace(go.Scatter(x=xs(grass_air_diff), y=ys(grass_air_diff), mode='lines', xaxis='x5',
                         yaxis='y10', line=dict(color='#8c8c8c', width=1.2)))
fig.add_trace(go.Scatter(x=xs(grass_temp), y=ys(grass_temp), mode='lines', xaxis='x5',
                         yaxis='y5', line=dict(color='black', width=2)))
box(321, 2167, 661, 2212)
ptext(491, 2189, "Wokingham AWS 20 Apr 2014", size=19)
box(419, 2556, 599, 2638)
pline(437, 2585, 452, 2585, width=3)
pline(437, 2613, 452, 2613, color='#8c8c8c', width=1.5)
ptext(460, 2584, "Grass level temp", size=16, anchor='left')
ptext(460, 2612, "Grass-air diff", size=16, anchor='left')
ptext(495, 2698, "Time GMT", size=14)
ptext(48, 2432, "Grass Temp (Deg C)", size=14, angle=-90, color='#555')
ptext(942, 2432, "Grass Temp minus Air Temp (Deg C)", size=14, angle=-90, color='#555')

# ---------------- Panel 6: rainfall ----------------
layout['xaxis6'] = ax(domain=xd(89, 930), anchor='y6', range=[-80, 2530], tickmode='array',
                      tickvals=hhmm_ticks, ticktext=hhmm_labels_2row, mirror=False,
                      showgrid=False, ticklabelstandoff=6, tickfont=dict(size=12.5))
layout['yaxis6'] = ax(domain=yd(2783, 3191), anchor='x6', range=[0, 12], tickmode='array',
                      tickvals=rain_ticks, mirror=True, showgrid=True, gridcolor='black',
                      gridwidth=2.5, ticklabelstandoff=8, tickfont=dict(size=12.5),
                      minor=dict(tickmode='array', tickvals=rain_minor, showgrid=True,
                                 gridcolor='#222', griddash='dot', gridwidth=1, ticks=''))
for v in hhmm_ticks:
    shapes.append(dict(type='line', xref='x6', yref='y6', x0=v, x1=v, y0=0, y1=11.45,
                       line=dict(color='#222', width=1, dash='dot'), layer='below'))
for (a, b) in [(-80, -36), (945, 2530)]:
    shapes.append(dict(type='line', xref='x6', yref='y6', x0=a, x1=b, y0=12, y1=12,
                       line=dict(color='black', width=1), layer='above'))
fig.add_trace(go.Scatter(x=xs(rain_accum), y=ys(rain_accum), mode='lines', xaxis='x6',
                         yaxis='y6', line=dict(color='black', width=2)))
ptext(261, 2755, "Wokingham AWS 20 Apr 2014", size=19)
ptext(261, 2782, "Rainfall (TBR)", size=19)
ptext(674, 2760, "Corrected to equivalent of the standard gauge", size=19)
ptext(510, 3242, "Time (GMT)", size=14)
ptext(46, 2987, "Rainfall accumulation (mm)", size=14, angle=-90)

# ---------------- Panel 7: sunshine ----------------
layout['xaxis7'] = ax(domain=xd(104, 963), anchor='y7', range=[2.376, 22.62], tickmode='array',
                      tickvals=sun_hour_ticks, showgrid=False, mirror=False,
                      ticklabelstandoff=7, tickfont=dict(size=17, weight='bold'))
layout['yaxis7'] = ax(domain=yd(3283, 3737), anchor='x7', range=[0, 150], tickmode='array',
                      tickvals=sun_ticks, ticktext=sun_labels, mirror=True, showgrid=True,
                      gridcolor='#9a9a9a', griddash='dot', gridwidth=1, ticks='outside',
                      ticklen=6, tickcolor='black', ticklabelstandoff=3, tickfont=dict(size=13))
for h in sun_hour_ticks:
    top = 150 if (h <= 7 or h >= 17) else (129.6 if h in (8, 16) else 103.5)
    shapes.append(dict(type='line', xref='x7', yref='y7', x0=h, x1=h, y0=0, y1=top,
                       line=dict(color='black', width=1, dash='5px,3px'), layer='below'))
for (a, b) in [(2.376, 7.6), (16.3, 22.62)]:
    shapes.append(dict(type='line', xref='x7', yref='y7', x0=a, x1=b, y0=150, y1=150,
                       line=dict(color='black', width=1.5), layer='above'))
fig.add_trace(go.Scatter(x=xs(sunshine), y=ys(sunshine), mode='lines', xaxis='x7', yaxis='y7',
                         line=dict(color='black', width=2)))
ptext(510, 3293, "Wokingham sunshine", size=18)
ptext(510, 3325, "20-Apr", size=26)
ptext(510, 3366, "2014", size=16, weight='bold')
ptext(510, 3395, "Total 0.82 Hrs", size=26)
ptext(534, 3782, "Time (GMT)", size=13)
ptext(53, 3510, "Sunshine (per cent per minute)", size=14, angle=-90)

# ---------------- Panel 8: wind direction ----------------
layout['xaxis8'] = ax(domain=xd(113, 948), anchor='y8', range=[-0.75, 24.85], tickmode='array',
                      tickvals=dir_hour_ticks, showgrid=True, gridcolor='black', gridwidth=1,
                      mirror=True, ticklabelstandoff=7, tickfont=dict(size=13))
layout['yaxis8'] = ax(domain=yd(3832, 4297), anchor='x8', range=[0, 360], tickmode='array',
                      tickvals=dir_ticks, showgrid=True, gridcolor='black', gridwidth=2.5,
                      mirror=True, ticklabelstandoff=9, tickfont=dict(size=13),
                      minor=dict(tickmode='array', tickvals=dir_minor, showgrid=True,
                                 gridcolor='black', gridwidth=1, ticks=''))
fig.add_trace(go.Scatter(x=xs(wind_dir), y=ys(wind_dir), mode='markers', xaxis='x8', yaxis='y8',
                         marker=dict(symbol='diamond', size=9, color='black', line=dict(width=0))))
prect(400, 3829, 700, 3867, fill='white', line='white', lw=0)
ptext(550, 3831, "Wokingham,\u00a0 20 April 2014", size=17, weight='bold')
ptext(550, 3851, "5 minute mean wind direction", size=14)
ptext(529, 4334, "Time (GMT)", size=14)
ptext(59, 4065, "Direction, degrees true", size=14, angle=-90)

# ---------------- Panel 9: wind speed ----------------
layout['xaxis9'] = ax(domain=xd(86, 959), anchor='y9', range=[-0.75, 25.43], tickmode='array',
                      tickvals=clock_ticks, ticktext=clock_labels, mirror=False,
                      ticklabelstandoff=7, **dotgrid)
layout['yaxis9'] = ax(domain=yd(4405, 4801), anchor='x9', range=[0, 50], tickmode='array',
                      tickvals=speed_ticks, ticktext=speed_labels, mirror=True,
                      ticklabelstandoff=8, **dotgrid)
shapes.append(dict(type='line', xref='x9', yref='y9', x0=-0.75, x1=9.8, y0=50, y1=50,
                   line=dict(color='black', width=1), layer='above'))
fig.add_trace(go.Scatter(x=xs(max_gust), y=ys(max_gust), mode='lines', xaxis='x9', yaxis='y9',
                         line=dict(color='#4a4a4a', width=1)))
fig.add_trace(go.Scatter(x=xs(mean_speed), y=ys(mean_speed), mode='lines', xaxis='x9',
                         yaxis='y9', line=dict(color='black', width=2)))
fig.add_trace(go.Scatter(x=xs(speed_x10), y=ys(speed_x10), mode='markers', xaxis='x9',
                         yaxis='y9', marker=dict(symbol='diamond', size=10, color='#c4c4c4',
                                                 line=dict(color='#333', width=1))))
ptext(263, 4385, "Wokingham,\u00a0 20 April 2014", size=19)
ptext(577, 4374, "Wind speed, 10 min mean / max gust", size=14)
ptext(577, 4391, "Speeds below 4 kt shown at x10 scale", size=14)
box(734, 4367, 958, 4393)
pline(768, 4381, 780, 4381, width=3)
ptext(786, 4380, "Speed x 1", size=11, anchor='left')
diamond(861, 4380, 4.5, '#c4c4c4', '#333')
ptext(873, 4380, "Speed / 10", size=11, anchor='left')
ptext(522, 4853, "Time (GMT)", size=14)
ptext(42, 4604, "Speed (knots)", size=14, angle=-90)

layout['shapes'] = shapes
layout['annotations'] = annotations
fig.update_layout(**layout)
fig.write_html("out.html")
